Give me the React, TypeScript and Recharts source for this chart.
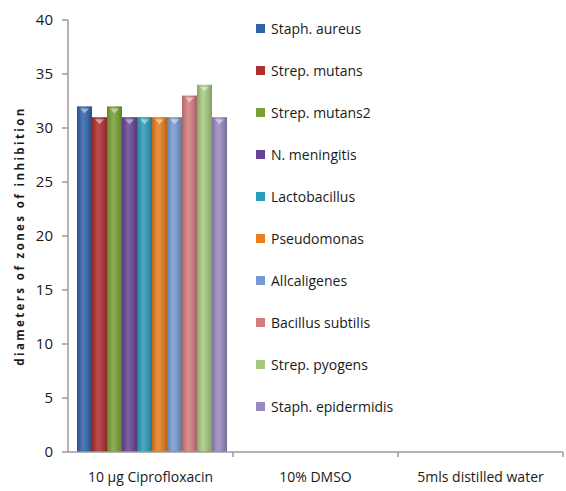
import { BarChart, Bar, XAxis, YAxis, Legend, Label } from "recharts";

const categories = ["10 µg Ciprofloxacin", "10% DMSO", "5mls distilled water"];
const organisms = [
  "Staph. aureus",
  "Strep. mutans",
  "Strep. mutans2",
  "N. meningitis",
  "Lactobacillus",
  "Pseudomonas",
  "Allcaligenes",
  "Bacillus subtilis",
  "Strep. pyogens",
  "Staph. epidermidis",
];
const colors = [
  "#2f62a8",
  "#b22e2e",
  "#78a035",
  "#674596",
  "#2a9bb8",
  "#ea7e1c",
  "#7799cf",
  "#d47c7c",
  "#a6c97e",
  "#9a88c0",
];
const ciprofloxacin = [32, 31, 32, 31, 31, 31, 31, 33, 34, 31];
const dmso = [0, 0, 0, 0, 0, 0, 0, 0, 0, 0];
const distilledWater = [0, 0, 0, 0, 0, 0, 0, 0, 0, 0];
const yTicks = [0, 5, 10, 15, 20, 25, 30, 35, 40];

const seriesByCategory = [ciprofloxacin, dmso, distilledWater];
const data = categories.map((name, ci) => {
  const row: any = { name };
  organisms.forEach((_, i) => {
    row["s" + i] = seriesByCategory[ci][i];
  });
  return row;
});

const W = 566;
const H = 491;
const AXIS_W = 68;
const AXIS_H = 39;
const BAND = (W - AXIS_W - 3) / categories.length;
const AXIS_COLOR = "#9a9a9a";
const FONT = "'Open Sans', sans-serif";

function BarShape(props: any) {
  const { x, y, width, height, fill } = props;
  if (!height || height <= 0) return null;
  const cx = x + width / 2;
  const tw = width * 0.3;
  return (
    <g>
      <rect x={x} y={y} width={width} height={height} fill={fill} />
      <rect x={x} y={y} width={width} height={height} fill="url(#shade)" />
      <path d={`M${cx - tw},${y + 2} L${cx + tw},${y + 2} L${cx},${y + 7} Z`} fill="#fff" fillOpacity={0.45} />
    </g>
  );
}

function XTick(props: any) {
  const { x, payload } = props;
  const axisY = H - AXIS_H;
  return (
    <g>
      <line x1={x + BAND / 2} x2={x + BAND / 2} y1={axisY} y2={axisY + 5} stroke={AXIS_COLOR} strokeWidth={1.5} />
      <text x={x} y={axisY + 30} textAnchor="middle" fontSize={14} fill="#1a1a1a" fontFamily={FONT}>
        {payload.value}
      </text>
    </g>
  );
}

function LegendBox(props: any) {
  const items = [...(props.payload || [])].sort(
    (a: any, b: any) => organisms.indexOf(a.value) - organisms.indexOf(b.value)
  );
  return (
    <div style={{ fontFamily: FONT, fontSize: 14, color: "#1a1a1a" }}>
      {items.map((it: any) => (
        <div key={it.value} style={{ display: "flex", alignItems: "center", height: 20, marginBottom: 22 }}>
          <span style={{ width: 9, height: 9, background: it.color, marginRight: 6, display: "inline-block" }} />
          <span>{it.value}</span>
        </div>
      ))}
    </div>
  );
}

function YTitle() {
  const cy = 236;
  return (
    <text
      x={19}
      y={cy}
      transform={`rotate(-90 19 ${cy})`}
      textAnchor="middle"
      dominantBaseline="central"
      fontSize={11.5}
      fontWeight="bold"
      letterSpacing={2.4}
      fill="#1a1a1a"
      fontFamily={FONT}
    >
      diameters of zones of inhibition
    </text>
  );
}

export default function App() {
  return (
    <div style={{ position: "absolute", left: 0, top: 0, width: W, height: H, background: "#fff" }}>
      <BarChart
        width={W}
        height={H}
        data={data}
        margin={{ top: 20, right: 3, bottom: 0, left: 0 }}
        barCategoryGap={9}
        barGap={0}
      >
        <defs>
          <linearGradient id="shade" x1="0" y1="0" x2="1" y2="0">
            <stop offset="0%" stopColor="#000" stopOpacity={0.18} />
            <stop offset="40%" stopColor="#fff" stopOpacity={0.15} />
            <stop offset="100%" stopColor="#000" stopOpacity={0.22} />
          </linearGradient>
        </defs>
        <XAxis
          dataKey="name"
          height={AXIS_H}
          tickLine={false}
          axisLine={{ stroke: AXIS_COLOR, strokeWidth: 1.5 }}
          tick={<XTick />}
          interval={0}
        />
        <YAxis
          width={AXIS_W}
          domain={[0, 40]}
          ticks={yTicks}
          tickSize={6}
          tickMargin={9}
          axisLine={{ stroke: AXIS_COLOR, strokeWidth: 1.5 }}
          tickLine={{ stroke: AXIS_COLOR, strokeWidth: 1.5 }}
          tick={{ fontSize: 15, fill: "#1a1a1a", fontFamily: FONT }}
        >
          <Label content={<YTitle />} />
        </YAxis>
        <Legend
          layout="vertical"
          align="center"
          verticalAlign="middle"
          content={<LegendBox />}
          wrapperStyle={{ left: 256, top: 18, width: 200 }}
        />
        {organisms.map((o, i) => (
          <Bar
            key={o}
            dataKey={"s" + i}
            name={o}
            fill={colors[i]}
            shape={<BarShape />}
            isAnimationActive={false}
          />
        ))}
      </BarChart>
    </div>
  );
}
